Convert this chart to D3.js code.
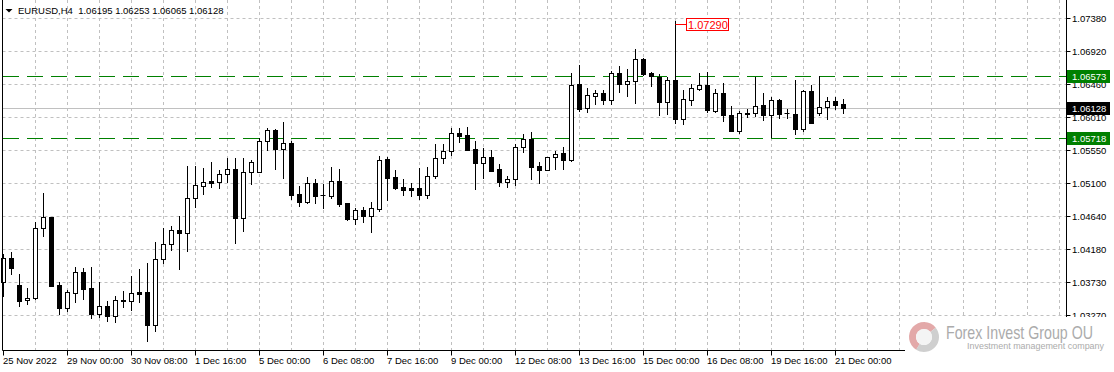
<!DOCTYPE html>
<html>
<head>
<meta charset="utf-8">
<script src="https://cdn.jsdelivr.net/npm/d3@7"></script>
<style>
  body { margin: 0; background: #fff; }
  svg { display: block; font-family: "Liberation Sans", Arial, sans-serif; }
</style>
</head>
<body>
<svg id="chart"></svg>
<script>
var width = 1114;
var height = 372;

var symbol = "EURUSD,H4";

// H4 bars, 25 Nov 2022 16:00 .. 21 Dec 2022 04:00
var openP = [
  1.03723, 1.04055, 1.03681, 1.03473, 1.03501, 1.04470, 1.04622, 1.03681, 1.03371, 1.03579,
  1.03861, 1.03640, 1.03288, 1.03390, 1.03260, 1.03468, 1.03468, 1.03584, 1.03584, 1.03136,
  1.04041, 1.04248, 1.04442, 1.04401, 1.04885, 1.05059, 1.05124, 1.05115, 1.05217, 1.05286,
  1.04608, 1.05245, 1.05245, 1.05674, 1.05830, 1.05571, 1.05650, 1.04940, 1.04838, 1.05093,
  1.04926, 1.04921, 1.05120, 1.04816, 1.04603, 1.04719, 1.04644, 1.04737, 1.05425, 1.05176,
  1.05037, 1.05023, 1.05023, 1.04935, 1.05189, 1.05438, 1.05535, 1.05784, 1.05757, 1.05563,
  1.05378, 1.05452, 1.05286, 1.05115, 1.05152, 1.05591, 1.05701, 1.05332, 1.05277, 1.05452,
  1.05508, 1.05415, 1.06467, 1.06130, 1.06305, 1.06342, 1.06249, 1.06619, 1.06462, 1.06504,
  1.06808, 1.06615, 1.06568, 1.06213, 1.06518, 1.05978, 1.06241, 1.06402, 1.06451, 1.06097,
  1.06338, 1.06038, 1.05820, 1.06061, 1.06061, 1.06172, 1.06042, 1.06245, 1.06061, 1.06051,
  1.05844, 1.06366, 1.06061, 1.06144, 1.06227, 1.06195
];
var highP = [
  1.04114, 1.04142, 1.03833, 1.03644, 1.04553, 1.04954, 1.04626, 1.03723, 1.03616, 1.03930,
  1.03920, 1.03930, 1.03727, 1.03460, 1.03529, 1.03598, 1.03806, 1.03907, 1.03990, 1.04280,
  1.04470, 1.04497, 1.04640, 1.05332, 1.05332, 1.05304, 1.05387, 1.05277, 1.05438, 1.05438,
  1.05438, 1.05415, 1.05724, 1.05854, 1.05844, 1.05941, 1.05678, 1.05051, 1.05176, 1.05148,
  1.05079, 1.05314, 1.05286, 1.04820, 1.04747, 1.04760, 1.04830, 1.05470, 1.05456, 1.05272,
  1.05152, 1.05093, 1.05300, 1.05314, 1.05636, 1.05632, 1.05854, 1.05854, 1.05867, 1.05674,
  1.05577, 1.05549, 1.05360, 1.05189, 1.05636, 1.05775, 1.05802, 1.05387, 1.05456, 1.05535,
  1.05591, 1.06615, 1.06730, 1.06415, 1.06384, 1.06384, 1.06647, 1.06716, 1.06674, 1.06951,
  1.06822, 1.06637, 1.06601, 1.06563, 1.07340, 1.06384, 1.06467, 1.06615, 1.06629, 1.06393,
  1.06476, 1.06162, 1.06097, 1.06121, 1.06568, 1.06338, 1.06283, 1.06259, 1.06121, 1.06522,
  1.06384, 1.06453, 1.06577, 1.06283, 1.06283, 1.06253
];
var lowP = [
  1.03537, 1.03833, 1.03399, 1.03418, 1.03498, 1.04367, 1.03671, 1.03284, 1.03330, 1.03450,
  1.03496, 1.03233, 1.03242, 1.03191, 1.03177, 1.03385, 1.03339, 1.03454, 1.02910, 1.03053,
  1.03994, 1.04169, 1.03911, 1.04160, 1.04760, 1.04949, 1.05041, 1.05032, 1.05115, 1.04271,
  1.04437, 1.05087, 1.05242, 1.05553, 1.05290, 1.05166, 1.04875, 1.04778, 1.04824, 1.04824,
  1.04747, 1.04893, 1.04783, 1.04585, 1.04525, 1.04561, 1.04423, 1.04713, 1.04861, 1.05018,
  1.04935, 1.04921, 1.04879, 1.04893, 1.05162, 1.05369, 1.05488, 1.05660, 1.05553, 1.05018,
  1.05162, 1.05263, 1.05051, 1.05045, 1.05073, 1.05521, 1.05156, 1.05093, 1.05272, 1.05290,
  1.05286, 1.05401, 1.06093, 1.06083, 1.06190, 1.06186, 1.06186, 1.06352, 1.06305, 1.06200,
  1.06598, 1.06443, 1.06042, 1.06051, 1.05927, 1.05909, 1.06180, 1.06384, 1.06075, 1.06075,
  1.05959, 1.05816, 1.05793, 1.06006, 1.06024, 1.05968, 1.05737, 1.05992, 1.05992, 1.05775,
  1.05820, 1.05923, 1.06038, 1.05978, 1.06117, 1.06065
];
var closeP = [
  1.04055, 1.03916, 1.03468, 1.03505, 1.04470, 1.04622, 1.03675, 1.03371, 1.03584, 1.03861,
  1.03634, 1.03288, 1.03390, 1.03260, 1.03473, 1.03482, 1.03570, 1.03561, 1.03136, 1.04041,
  1.04248, 1.04442, 1.04401, 1.04885, 1.05065, 1.05106, 1.05101, 1.05217, 1.05286, 1.04616,
  1.05245, 1.05387, 1.05678, 1.05826, 1.05571, 1.05650, 1.04931, 1.04838, 1.05093, 1.04921,
  1.04926, 1.05120, 1.04810, 1.04603, 1.04719, 1.04644, 1.04747, 1.05411, 1.05170, 1.05032,
  1.05004, 1.05004, 1.04935, 1.05189, 1.05438, 1.05535, 1.05784, 1.05751, 1.05557, 1.05378,
  1.05452, 1.05267, 1.05115, 1.05152, 1.05591, 1.05701, 1.05322, 1.05277, 1.05452, 1.05498,
  1.05419, 1.06453, 1.06121, 1.06314, 1.06342, 1.06245, 1.06619, 1.06462, 1.06504, 1.06808,
  1.06609, 1.06577, 1.06213, 1.06518, 1.05978, 1.06255, 1.06407, 1.06449, 1.06107, 1.06338,
  1.06038, 1.05820, 1.06061, 1.06058, 1.06162, 1.06038, 1.06245, 1.06051, 1.06061, 1.05844,
  1.06366, 1.05931, 1.06144, 1.06227, 1.06180, 1.06128
];

var priceTicks = [1.0738, 1.0692, 1.0646, 1.0601, 1.0555, 1.0510, 1.0464, 1.0418, 1.0373, 1.0327];
var tickBars = [0, 8, 16, 24, 32, 40, 48, 56, 64, 72, 80, 88, 96, 104];
var tickLabels = ["25 Nov 2022", "29 Nov 00:00", "30 Nov 08:00", "1 Dec 16:00", "5 Dec 00:00",
  "6 Dec 08:00", "7 Dec 16:00", "9 Dec 00:00", "12 Dec 08:00", "13 Dec 16:00",
  "15 Dec 00:00", "16 Dec 08:00", "19 Dec 16:00", "21 Dec 00:00"];

var levels = [1.06573, 1.05718];
var bid = 1.06128;
var markBar = 84;
var markPrice = 1.07290;

var plotLeft = 2.5, plotRight = 1066.5, plotBottom = 350.5;
var n = openP.length;

var svg = d3.select("#chart").attr("width", width).attr("height", height);
svg.append("rect").attr("width", width).attr("height", height).attr("fill", "#fff");

var x = d3.scaleLinear().domain([0, n - 1]).range([3.5, 3.5 + 8 * (n - 1)]);
var y = d3.scaleLinear().domain([1.0327, 1.0738]).range([315, 18]);
function cy(p) { return Math.round(y(p)) + 0.5; }

// grid
var grid = svg.append("g").attr("stroke", "#c0c0c0").attr("stroke-dasharray", "3,3");
grid.selectAll("line.v")
  .data(d3.range(4, 200, 4).filter(function(i) { return x(i) < plotRight - 2; }))
  .enter().append("line")
  .attr("x1", function(i) { return x(i); }).attr("x2", function(i) { return x(i); })
  .attr("y1", 0).attr("y2", plotBottom);
grid.selectAll("line.h")
  .data(priceTicks)
  .enter().append("line")
  .attr("x1", plotLeft).attr("x2", plotRight)
  .attr("y1", cy).attr("y2", cy);

// bid line
svg.append("line")
  .attr("x1", plotLeft).attr("x2", plotRight)
  .attr("y1", cy(bid)).attr("y2", cy(bid))
  .attr("stroke", "#c0c0c0");

// levels
svg.selectAll("line.level")
  .data(levels)
  .enter().append("line")
  .attr("x1", 3).attr("x2", plotRight)
  .attr("y1", cy).attr("y2", cy)
  .attr("stroke", "#008000")
  .attr("stroke-dasharray", "16,8");

// candles
var bars = d3.range(n);
var candles = svg.append("g");
candles.selectAll("line.wick")
  .data(bars)
  .enter().append("line")
  .attr("x1", function(i) { return x(i); }).attr("x2", function(i) { return x(i); })
  .attr("y1", function(i) { return Math.round(y(highP[i])); })
  .attr("y2", function(i) { return Math.round(y(lowP[i])) + 1; })
  .attr("stroke", "#000");

bars.forEach(function(i) {
  var top = Math.round(y(Math.max(openP[i], closeP[i])));
  var bot = Math.round(y(Math.min(openP[i], closeP[i])));
  var up = closeP[i] >= openP[i];
  if (bot - top < 1) {
    candles.append("line")
      .attr("x1", x(i) - 3).attr("x2", x(i) + 2)
      .attr("y1", top + 0.5).attr("y2", top + 0.5)
      .attr("stroke", "#000");
  } else if (up) {
    candles.append("rect")
      .attr("x", x(i) - 2).attr("y", top + 0.5)
      .attr("width", 4).attr("height", bot - top)
      .attr("fill", "#fff").attr("stroke", "#000");
  } else {
    candles.append("rect")
      .attr("x", x(i) - 2.5).attr("y", top)
      .attr("width", 5).attr("height", bot - top + 1)
      .attr("fill", "#000");
  }
});

// frame
svg.append("line").attr("x1", plotLeft).attr("x2", plotLeft).attr("y1", 0).attr("y2", plotBottom).attr("stroke", "#000");
svg.append("line").attr("x1", plotRight).attr("x2", plotRight).attr("y1", 0).attr("y2", plotBottom).attr("stroke", "#000");
svg.append("line").attr("x1", plotLeft).attr("x2", plotRight).attr("y1", plotBottom).attr("y2", plotBottom).attr("stroke", "#000");

// price axis
var pAxis = svg.append("g").attr("font-size", "9.5px").attr("fill", "#000");
pAxis.selectAll("line")
  .data(priceTicks)
  .enter().append("line")
  .attr("x1", plotRight).attr("x2", plotRight + 4)
  .attr("y1", cy).attr("y2", cy)
  .attr("stroke", "#000");
pAxis.selectAll("text")
  .data(priceTicks)
  .enter().append("text")
  .attr("x", 1072)
  .attr("y", function(p) { return cy(p) + 3.5; })
  .text(function(p) { return p.toFixed(5); });

// time axis
var tAxis = svg.append("g").attr("font-size", "9.5px").attr("fill", "#000");
tAxis.selectAll("line")
  .data(tickBars)
  .enter().append("line")
  .attr("x1", function(i) { return x(i); }).attr("x2", function(i) { return x(i); })
  .attr("y1", plotBottom).attr("y2", plotBottom + 5)
  .attr("stroke", "#000");
tAxis.selectAll("text")
  .data(tickBars)
  .enter().append("text")
  .attr("x", function(i) { return x(i) - 0.5; })
  .attr("y", 364)
  .text(function(d, k) { return tickLabels[k]; });

// price tags on the axis
var tags = [
  { p: levels[0], c: "#008000" },
  { p: bid, c: "#000" },
  { p: levels[1], c: "#008000" }
];
var tagG = svg.selectAll("g.tag").data(tags).enter().append("g");
tagG.append("rect")
  .attr("x", 1067).attr("y", function(d) { return cy(d.p) - 6.5; })
  .attr("width", 43).attr("height", 13)
  .attr("fill", function(d) { return d.c; });
tagG.append("text")
  .attr("x", 1072).attr("y", function(d) { return cy(d.p) + 3.5; })
  .attr("font-size", "9.5px").attr("fill", "#fff")
  .text(function(d) { return d.p.toFixed(5); });

// price mark on the spike
var my = Math.round(y(markPrice)) - 0.5;
svg.append("line")
  .attr("x1", x(markBar)).attr("x2", 686.5)
  .attr("y1", my).attr("y2", my)
  .attr("stroke", "#ff0000");
svg.append("rect")
  .attr("x", 686.5).attr("y", my - 6).attr("width", 42).attr("height", 12)
  .attr("fill", "#fff").attr("stroke", "#ff0000");
svg.append("text")
  .attr("x", 688).attr("y", my + 4.5)
  .attr("font-size", "11px").attr("fill", "#ff0000")
  .text(markPrice.toFixed(5));

// header
svg.append("path").attr("d", "M5.5,9 L12.5,9 L9,12.5 Z").attr("fill", "#000");
svg.append("text")
  .attr("x", 18).attr("y", 14)
  .attr("font-size", "9.5px").attr("fill", "#000")
  .attr("xml:space", "preserve")
  .text(symbol + "  " + [openP[n - 1], highP[n - 1], lowP[n - 1], closeP[n - 1]].map(function(v) { return v.toFixed(5); }).join(" "));

// watermark
var wm = svg.append("g");
wm.append("rect").attr("x", 905).attr("y", 317).attr("width", 209).attr("height", 55).attr("fill", "#fff");
var ring = d3.arc().innerRadius(8).outerRadius(15);
var logo = wm.append("g").attr("transform", "translate(924,337)");
logo.append("path").attr("d", ring({ startAngle: -2.6, endAngle: 0.9 })).attr("fill", "#e3a9a9");
logo.append("path").attr("d", ring({ startAngle: 0.9, endAngle: 3.7 })).attr("fill", "#cfcfcf");
logo.append("circle").attr("r", 8).attr("fill", "#f4f4f4");
wm.append("text")
  .attr("x", 946).attr("y", 339)
  .attr("font-size", "19px").attr("fill", "#ababab")
  .attr("textLength", 147).attr("lengthAdjust", "spacingAndGlyphs")
  .text("Forex Invest Group OU");
wm.append("text")
  .attr("x", 967).attr("y", 349)
  .attr("font-size", "9px").attr("fill", "#ababab")
  .attr("textLength", 137).attr("lengthAdjust", "spacingAndGlyphs")
  .text("Investment management company");
</script>
</body>
</html>
